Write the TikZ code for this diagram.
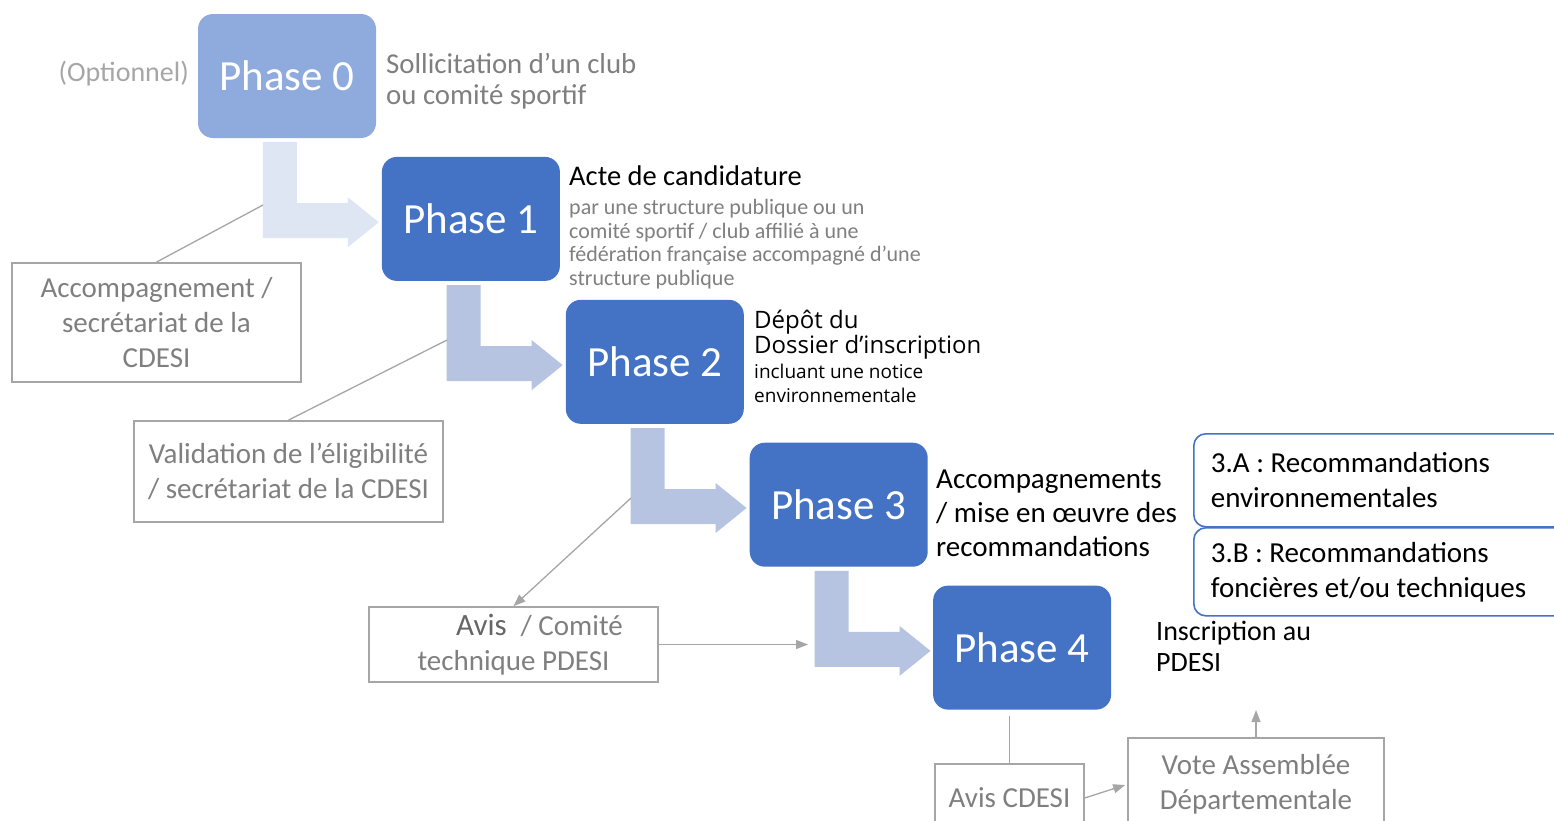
\documentclass[tikz,border=0pt]{standalone}
\usepackage{fontspec}
\setmainfont{Carlito}
\newfontfamily\opensans{Open Sans}
\usetikzlibrary{arrows.meta, positioning}
\frenchspacing
\definecolor{phaseblue}{HTML}{4472C4}
\definecolor{phasepale}{HTML}{8FAADC}
\definecolor{arrowblue}{HTML}{B6C4E2}
\definecolor{arrowpale}{HTML}{DEE6F3}
\definecolor{greyline}{HTML}{A6A6A6}
\definecolor{greytext}{HTML}{7F7F7F}
\definecolor{avisgrey}{HTML}{666666}
\tikzset{
	phase/.style={rounded corners=15pt, minimum width=178pt, minimum height=124pt, inner sep=0pt,
		fill=phaseblue, text=white, font=\fontsize{43}{50}\selectfont},
	greybox/.style={draw=greyline, line width=1.8pt, text=greytext, align=center, inner sep=0pt,
		font=\fontsize{29}{35}\selectfont},
	recobox/.style={draw=phaseblue, line width=1.6pt, rounded corners=12pt, anchor=north west,
		text width=356pt, inner xsep=17pt, inner ysep=0pt, align=flush left, font=\fontsize{29}{35}\selectfont},
	desc/.style={anchor=west, align=left, inner sep=0pt, font=\fontsize{29}{33}\selectfont},
	link/.style={draw=greyline, line width=1.3pt}
}

\begin{document}
\begin{tikzpicture}[x=1pt, y=-1pt, >={Triangle[length=12pt,width=9pt]}]
	\useasboundingbox (0,0) rectangle (1554,820);
	\clip (0,0) rectangle (1554,820);

	% phases
	\node[phase, fill=phasepale]                    (p0) at (287,76) {Phase 0};
	\node[phase, below right=18.5pt and 5.5pt of p0] (p1) {Phase 1};
	\node[phase, below right=18.5pt and 5.5pt of p1] (p2) {Phase 2};
	\node[phase, below right=18.5pt and 5.5pt of p2] (p3) {Phase 3};
	\node[phase, below right=18.5pt and 5pt of p3]   (p4) {Phase 4};

	% bent arrows between phases
	\foreach \i/\c in {0/arrowpale, 1/arrowblue, 2/arrowblue, 3/arrowblue}
		\fill[\c] ([shift={(65,4)}]p\i.south west) -- ++(34,0) -- ++(0,61) -- ++(51,0) -- ++(0,-6)
			-- ++(31,25) -- ++(-31,25) -- ++(0,-9) -- ++(-85,0) -- cycle;

	% texts next to the phases
	\node[desc, anchor=east, text=greyline, font=\fontsize{28}{33}\selectfont] (opt) at (189,74) {(Optionnel)};
	\node[desc, text=greytext, font=\fontsize{28.8}{31}\selectfont] (t0) at (386,81) {Sollicitation d’un club\\ou comité sportif};
	\node[desc, font=\fontsize{28.5}{33}\selectfont] (t1) at (569,176) {Acte de candidature};
	\node[desc, text=greytext, font=\fontsize{22}{23.7}\selectfont] (t1b) at (569,244)
		{par une structure publique ou un\\comité sportif / club affilié à une\\fédération française accompagné d’une\\structure publique};
	\node[desc, font=\opensans\fontsize{24}{22}\selectfont] (t2) at (754,335) {Dépôt du\\Dossier d’inscription};
	\node[desc, font=\opensans\fontsize{19}{24}\selectfont] (t2b) at (754,383) {incluant une notice\\environnementale};
	\node[desc, font=\fontsize{29}{34}\selectfont] (t3) at (936,513) {Accompagnements\\/ mise en œuvre des\\recommandations};
	\node[recobox, minimum height=93pt] (r3a) at (1193,433) {3.A : Recommandations\\environnementales};
	\node[recobox, minimum height=88pt] (r3b) at (1193,527) {3.B : Recommandations\\foncières et/ou techniques};
	\node[desc, font=\fontsize{28}{31}\selectfont] (t4) at (1156,646) {Inscription au\\PDESI};

	% grey boxes
	\node[greybox, minimum width=289pt, minimum height=119pt] (acc) at (156.5,322.5) {Accompagnement /\\secrétariat de la\\CDESI};
	\node[greybox, minimum width=309pt, minimum height=101pt] (valid) at (288.5,471.5) {Validation de l’éligibilité\\/ secrétariat de la CDESI};
	\node[greybox, minimum width=289pt, minimum height=75pt] (avis) at (513.5,644.5)
		{\hspace*{52pt}{\color{avisgrey}\fontsize{31}{35}\selectfont Avis}\hspace{14pt}/ Comité\\technique PDESI};
	\node[greybox, anchor=north, minimum width=149pt, minimum height=68pt] (cdesi) at (1009.5,763) {Avis CDESI};
	\node[greybox, anchor=north, minimum width=256pt, minimum height=93pt] (vote) at (1256,737) {Vote Assemblée\\Départementale};

	% connectors
	\coordinate (c01) at (263,205);
	\coordinate (c12) at (447,340);
	\coordinate (c23) at (631,498);
	\coordinate (c34) at (808,644.5);
	\coordinate (c4up) at (1256,710);
	\draw[link] (acc.north) -- (c01);
	\draw[link] (valid.north) -- (c12);
	\draw[link, ->] (c23) -- (avis.north);
	\draw[link, ->] (avis.east) -- (c34);
	\draw[link, shorten >=6pt] (cdesi.north) -- (cdesi.north |- p4.south);
	\draw[link, ->, shorten >=2pt] (cdesi.east) -- (vote.west);
	\draw[link, ->] (vote.north) -- (c4up);
\end{tikzpicture}
\end{document}
